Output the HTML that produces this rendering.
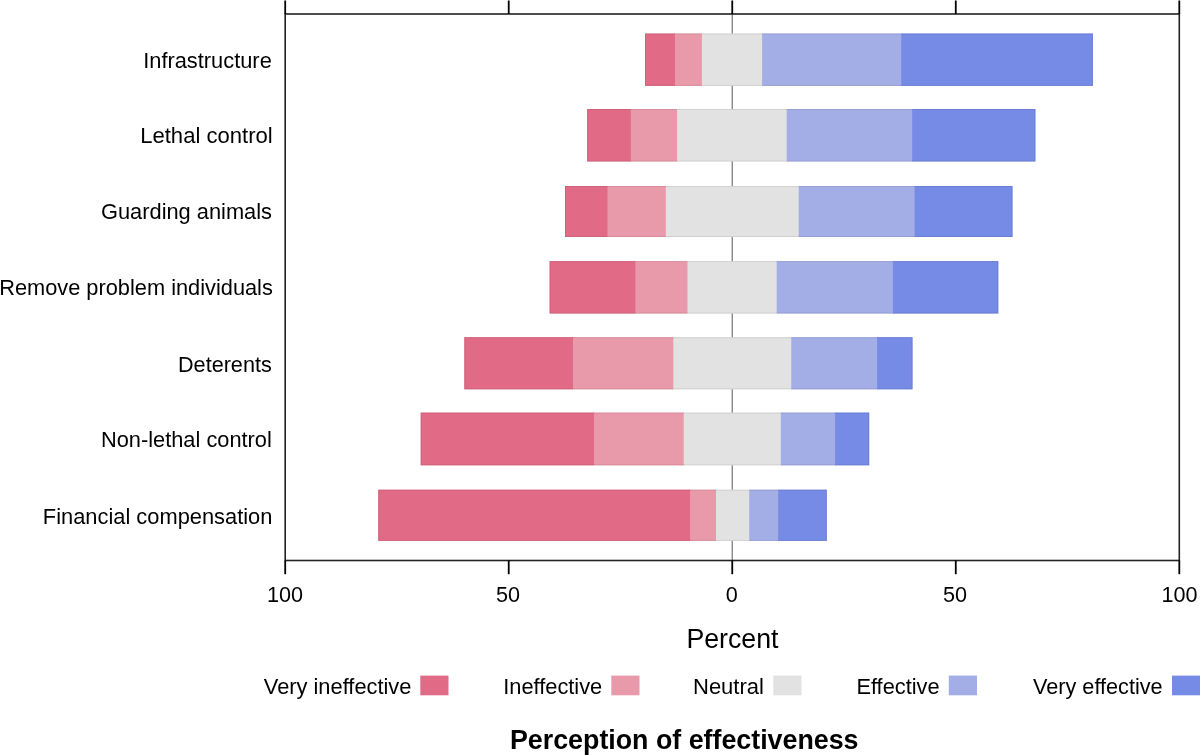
<!DOCTYPE html>
<html><head><meta charset="utf-8"><style>
html,body{margin:0;padding:0;background:#fff;width:1200px;height:755px;overflow:hidden}
svg{display:block;will-change:transform}
text{font-family:"Liberation Sans",sans-serif;fill:#000}
</style></head><body>
<svg width="1200" height="755" viewBox="0 0 1200 755">
<line x1="732.25" y1="14" x2="732.25" y2="560.5" stroke="#7f7f7f" stroke-width="1.3"/>
<rect x="645.00" y="33.53" width="30.70" height="52.37" fill="#E16A86"/>
<rect x="675.00" y="33.53" width="27.60" height="52.37" fill="#E89AAA"/>
<rect x="701.90" y="33.53" width="60.90" height="52.37" fill="#E2E2E2"/>
<rect x="762.10" y="33.53" width="139.85" height="52.37" fill="#A3ADE6"/>
<rect x="901.25" y="33.53" width="191.65" height="52.37" fill="#768BE6"/>
<rect x="587.10" y="109.00" width="44.40" height="52.47" fill="#E16A86"/>
<rect x="630.80" y="109.00" width="47.00" height="52.47" fill="#E89AAA"/>
<rect x="677.10" y="109.00" width="110.30" height="52.47" fill="#E2E2E2"/>
<rect x="786.70" y="109.00" width="126.10" height="52.47" fill="#A3ADE6"/>
<rect x="912.10" y="109.00" width="123.30" height="52.47" fill="#768BE6"/>
<rect x="565.00" y="186.00" width="43.20" height="51.00" fill="#E16A86"/>
<rect x="607.50" y="186.00" width="59.00" height="51.00" fill="#E89AAA"/>
<rect x="665.80" y="186.00" width="133.65" height="51.00" fill="#E2E2E2"/>
<rect x="798.75" y="186.00" width="116.55" height="51.00" fill="#A3ADE6"/>
<rect x="914.60" y="186.00" width="97.90" height="51.00" fill="#768BE6"/>
<rect x="549.60" y="261.10" width="86.50" height="52.40" fill="#E16A86"/>
<rect x="635.40" y="261.10" width="52.80" height="52.40" fill="#E89AAA"/>
<rect x="687.50" y="261.10" width="89.90" height="52.40" fill="#E2E2E2"/>
<rect x="776.70" y="261.10" width="116.90" height="52.40" fill="#A3ADE6"/>
<rect x="892.90" y="261.10" width="105.40" height="52.40" fill="#768BE6"/>
<rect x="464.30" y="337.20" width="109.40" height="52.10" fill="#E16A86"/>
<rect x="573.00" y="337.20" width="101.00" height="52.10" fill="#E89AAA"/>
<rect x="673.30" y="337.20" width="118.65" height="52.10" fill="#E2E2E2"/>
<rect x="791.25" y="337.20" width="86.55" height="52.10" fill="#A3ADE6"/>
<rect x="877.10" y="337.20" width="35.40" height="52.10" fill="#768BE6"/>
<rect x="420.70" y="412.60" width="174.00" height="52.70" fill="#E16A86"/>
<rect x="594.00" y="412.60" width="90.40" height="52.70" fill="#E89AAA"/>
<rect x="683.70" y="412.60" width="97.80" height="52.70" fill="#E2E2E2"/>
<rect x="780.80" y="412.60" width="55.00" height="52.70" fill="#A3ADE6"/>
<rect x="835.10" y="412.60" width="34.10" height="52.70" fill="#768BE6"/>
<rect x="378.25" y="489.70" width="312.55" height="51.20" fill="#E16A86"/>
<rect x="690.10" y="489.70" width="26.60" height="51.20" fill="#E89AAA"/>
<rect x="716.00" y="489.70" width="33.95" height="51.20" fill="#E2E2E2"/>
<rect x="749.25" y="489.70" width="29.55" height="51.20" fill="#A3ADE6"/>
<rect x="778.10" y="489.70" width="48.70" height="51.20" fill="#768BE6"/>
<rect x="645.00" y="33.53" width="30.00" height="1" fill="#C15B73" fill-opacity="0.55"/>
<rect x="645.00" y="84.90" width="30.00" height="1" fill="#C15B73" fill-opacity="0.55"/>
<rect x="675.00" y="33.53" width="26.90" height="1" fill="#C78492" fill-opacity="0.55"/>
<rect x="675.00" y="84.90" width="26.90" height="1" fill="#C78492" fill-opacity="0.55"/>
<rect x="701.90" y="33.53" width="60.20" height="1" fill="#C2C2C2" fill-opacity="0.55"/>
<rect x="701.90" y="84.90" width="60.20" height="1" fill="#C2C2C2" fill-opacity="0.55"/>
<rect x="762.10" y="33.53" width="139.15" height="1" fill="#8C94C5" fill-opacity="0.55"/>
<rect x="762.10" y="84.90" width="139.15" height="1" fill="#8C94C5" fill-opacity="0.55"/>
<rect x="901.25" y="33.53" width="191.65" height="1" fill="#6577C5" fill-opacity="0.55"/>
<rect x="901.25" y="84.90" width="191.65" height="1" fill="#6577C5" fill-opacity="0.55"/>
<rect x="645.00" y="34.53" width="1" height="50.37" fill="#C15B73" fill-opacity="0.55"/>
<rect x="1091.90" y="34.53" width="1" height="50.37" fill="#6577C5" fill-opacity="0.55"/>
<rect x="587.10" y="109.00" width="43.70" height="1" fill="#C15B73" fill-opacity="0.55"/>
<rect x="587.10" y="160.47" width="43.70" height="1" fill="#C15B73" fill-opacity="0.55"/>
<rect x="630.80" y="109.00" width="46.30" height="1" fill="#C78492" fill-opacity="0.55"/>
<rect x="630.80" y="160.47" width="46.30" height="1" fill="#C78492" fill-opacity="0.55"/>
<rect x="677.10" y="109.00" width="109.60" height="1" fill="#C2C2C2" fill-opacity="0.55"/>
<rect x="677.10" y="160.47" width="109.60" height="1" fill="#C2C2C2" fill-opacity="0.55"/>
<rect x="786.70" y="109.00" width="125.40" height="1" fill="#8C94C5" fill-opacity="0.55"/>
<rect x="786.70" y="160.47" width="125.40" height="1" fill="#8C94C5" fill-opacity="0.55"/>
<rect x="912.10" y="109.00" width="123.30" height="1" fill="#6577C5" fill-opacity="0.55"/>
<rect x="912.10" y="160.47" width="123.30" height="1" fill="#6577C5" fill-opacity="0.55"/>
<rect x="587.10" y="110.00" width="1" height="50.47" fill="#C15B73" fill-opacity="0.55"/>
<rect x="1034.40" y="110.00" width="1" height="50.47" fill="#6577C5" fill-opacity="0.55"/>
<rect x="565.00" y="186.00" width="42.50" height="1" fill="#C15B73" fill-opacity="0.55"/>
<rect x="565.00" y="236.00" width="42.50" height="1" fill="#C15B73" fill-opacity="0.55"/>
<rect x="607.50" y="186.00" width="58.30" height="1" fill="#C78492" fill-opacity="0.55"/>
<rect x="607.50" y="236.00" width="58.30" height="1" fill="#C78492" fill-opacity="0.55"/>
<rect x="665.80" y="186.00" width="132.95" height="1" fill="#C2C2C2" fill-opacity="0.55"/>
<rect x="665.80" y="236.00" width="132.95" height="1" fill="#C2C2C2" fill-opacity="0.55"/>
<rect x="798.75" y="186.00" width="115.85" height="1" fill="#8C94C5" fill-opacity="0.55"/>
<rect x="798.75" y="236.00" width="115.85" height="1" fill="#8C94C5" fill-opacity="0.55"/>
<rect x="914.60" y="186.00" width="97.90" height="1" fill="#6577C5" fill-opacity="0.55"/>
<rect x="914.60" y="236.00" width="97.90" height="1" fill="#6577C5" fill-opacity="0.55"/>
<rect x="565.00" y="187.00" width="1" height="49.00" fill="#C15B73" fill-opacity="0.55"/>
<rect x="1011.50" y="187.00" width="1" height="49.00" fill="#6577C5" fill-opacity="0.55"/>
<rect x="549.60" y="261.10" width="85.80" height="1" fill="#C15B73" fill-opacity="0.55"/>
<rect x="549.60" y="312.50" width="85.80" height="1" fill="#C15B73" fill-opacity="0.55"/>
<rect x="635.40" y="261.10" width="52.10" height="1" fill="#C78492" fill-opacity="0.55"/>
<rect x="635.40" y="312.50" width="52.10" height="1" fill="#C78492" fill-opacity="0.55"/>
<rect x="687.50" y="261.10" width="89.20" height="1" fill="#C2C2C2" fill-opacity="0.55"/>
<rect x="687.50" y="312.50" width="89.20" height="1" fill="#C2C2C2" fill-opacity="0.55"/>
<rect x="776.70" y="261.10" width="116.20" height="1" fill="#8C94C5" fill-opacity="0.55"/>
<rect x="776.70" y="312.50" width="116.20" height="1" fill="#8C94C5" fill-opacity="0.55"/>
<rect x="892.90" y="261.10" width="105.40" height="1" fill="#6577C5" fill-opacity="0.55"/>
<rect x="892.90" y="312.50" width="105.40" height="1" fill="#6577C5" fill-opacity="0.55"/>
<rect x="549.60" y="262.10" width="1" height="50.40" fill="#C15B73" fill-opacity="0.55"/>
<rect x="997.30" y="262.10" width="1" height="50.40" fill="#6577C5" fill-opacity="0.55"/>
<rect x="464.30" y="337.20" width="108.70" height="1" fill="#C15B73" fill-opacity="0.55"/>
<rect x="464.30" y="388.30" width="108.70" height="1" fill="#C15B73" fill-opacity="0.55"/>
<rect x="573.00" y="337.20" width="100.30" height="1" fill="#C78492" fill-opacity="0.55"/>
<rect x="573.00" y="388.30" width="100.30" height="1" fill="#C78492" fill-opacity="0.55"/>
<rect x="673.30" y="337.20" width="117.95" height="1" fill="#C2C2C2" fill-opacity="0.55"/>
<rect x="673.30" y="388.30" width="117.95" height="1" fill="#C2C2C2" fill-opacity="0.55"/>
<rect x="791.25" y="337.20" width="85.85" height="1" fill="#8C94C5" fill-opacity="0.55"/>
<rect x="791.25" y="388.30" width="85.85" height="1" fill="#8C94C5" fill-opacity="0.55"/>
<rect x="877.10" y="337.20" width="35.40" height="1" fill="#6577C5" fill-opacity="0.55"/>
<rect x="877.10" y="388.30" width="35.40" height="1" fill="#6577C5" fill-opacity="0.55"/>
<rect x="464.30" y="338.20" width="1" height="50.10" fill="#C15B73" fill-opacity="0.55"/>
<rect x="911.50" y="338.20" width="1" height="50.10" fill="#6577C5" fill-opacity="0.55"/>
<rect x="420.70" y="412.60" width="173.30" height="1" fill="#C15B73" fill-opacity="0.55"/>
<rect x="420.70" y="464.30" width="173.30" height="1" fill="#C15B73" fill-opacity="0.55"/>
<rect x="594.00" y="412.60" width="89.70" height="1" fill="#C78492" fill-opacity="0.55"/>
<rect x="594.00" y="464.30" width="89.70" height="1" fill="#C78492" fill-opacity="0.55"/>
<rect x="683.70" y="412.60" width="97.10" height="1" fill="#C2C2C2" fill-opacity="0.55"/>
<rect x="683.70" y="464.30" width="97.10" height="1" fill="#C2C2C2" fill-opacity="0.55"/>
<rect x="780.80" y="412.60" width="54.30" height="1" fill="#8C94C5" fill-opacity="0.55"/>
<rect x="780.80" y="464.30" width="54.30" height="1" fill="#8C94C5" fill-opacity="0.55"/>
<rect x="835.10" y="412.60" width="34.10" height="1" fill="#6577C5" fill-opacity="0.55"/>
<rect x="835.10" y="464.30" width="34.10" height="1" fill="#6577C5" fill-opacity="0.55"/>
<rect x="420.70" y="413.60" width="1" height="50.70" fill="#C15B73" fill-opacity="0.55"/>
<rect x="868.20" y="413.60" width="1" height="50.70" fill="#6577C5" fill-opacity="0.55"/>
<rect x="378.25" y="489.70" width="311.85" height="1" fill="#C15B73" fill-opacity="0.55"/>
<rect x="378.25" y="539.90" width="311.85" height="1" fill="#C15B73" fill-opacity="0.55"/>
<rect x="690.10" y="489.70" width="25.90" height="1" fill="#C78492" fill-opacity="0.55"/>
<rect x="690.10" y="539.90" width="25.90" height="1" fill="#C78492" fill-opacity="0.55"/>
<rect x="716.00" y="489.70" width="33.25" height="1" fill="#C2C2C2" fill-opacity="0.55"/>
<rect x="716.00" y="539.90" width="33.25" height="1" fill="#C2C2C2" fill-opacity="0.55"/>
<rect x="749.25" y="489.70" width="28.85" height="1" fill="#8C94C5" fill-opacity="0.55"/>
<rect x="749.25" y="539.90" width="28.85" height="1" fill="#8C94C5" fill-opacity="0.55"/>
<rect x="778.10" y="489.70" width="48.70" height="1" fill="#6577C5" fill-opacity="0.55"/>
<rect x="778.10" y="539.90" width="48.70" height="1" fill="#6577C5" fill-opacity="0.55"/>
<rect x="378.25" y="490.70" width="1" height="49.20" fill="#C15B73" fill-opacity="0.55"/>
<rect x="825.80" y="490.70" width="1" height="49.20" fill="#6577C5" fill-opacity="0.55"/>
<rect x="285.2" y="14" width="894.10" height="546.5" fill="none" stroke="#222" stroke-width="1.6"/>
<line x1="285.20" y1="0.5" x2="285.20" y2="14" stroke="#000" stroke-width="1.8"/>
<line x1="285.20" y1="560.5" x2="285.20" y2="574.2" stroke="#000" stroke-width="1.8"/>
<line x1="508.72" y1="0.5" x2="508.72" y2="14" stroke="#000" stroke-width="1.8"/>
<line x1="508.72" y1="560.5" x2="508.72" y2="574.2" stroke="#000" stroke-width="1.8"/>
<line x1="732.25" y1="0.5" x2="732.25" y2="14" stroke="#000" stroke-width="1.8"/>
<line x1="732.25" y1="560.5" x2="732.25" y2="574.2" stroke="#000" stroke-width="1.8"/>
<line x1="955.77" y1="0.5" x2="955.77" y2="14" stroke="#000" stroke-width="1.8"/>
<line x1="955.77" y1="560.5" x2="955.77" y2="574.2" stroke="#000" stroke-width="1.8"/>
<line x1="1179.30" y1="0.5" x2="1179.30" y2="14" stroke="#000" stroke-width="1.8"/>
<line x1="1179.30" y1="560.5" x2="1179.30" y2="574.2" stroke="#000" stroke-width="1.8"/>
<rect x="420.3" y="675.6" width="28.2" height="19.7" fill="#E16A86"/>
<rect x="611.3" y="675.6" width="28.2" height="19.7" fill="#E89AAA"/>
<rect x="773.3" y="675.6" width="28.2" height="19.7" fill="#E2E2E2"/>
<rect x="948.8" y="675.6" width="28.2" height="19.7" fill="#A3ADE6"/>
<rect x="1172" y="675.6" width="28.2" height="19.7" fill="#768BE6"/>
<text id="y0" x="143.20" y="67.6" font-size="22" textLength="128.59" lengthAdjust="spacingAndGlyphs">Infrastructure</text>
<text id="y1" x="140.20" y="143.3" font-size="22" textLength="132.51" lengthAdjust="spacingAndGlyphs">Lethal control</text>
<text id="y2" x="101.00" y="219.2" font-size="22" textLength="171.02" lengthAdjust="spacingAndGlyphs">Guarding animals</text>
<text id="y3" x="-0.80" y="295.3" font-size="22" textLength="273.65" lengthAdjust="spacingAndGlyphs">Remove problem individuals</text>
<text id="y4" x="178.00" y="371.6" font-size="22" textLength="93.75" lengthAdjust="spacingAndGlyphs">Deterents</text>
<text id="y5" x="101.00" y="447.0" font-size="22" textLength="170.81" lengthAdjust="spacingAndGlyphs">Non-lethal control</text>
<text id="y6" x="42.80" y="523.6" font-size="22" textLength="229.63" lengthAdjust="spacingAndGlyphs">Financial compensation</text>
<text id="t0" x="267.00" y="601.8" font-size="21.6">100</text>
<text id="t1" x="496.00" y="601.8" font-size="21.6">50</text>
<text id="t2" x="725.80" y="601.8" font-size="21.6">0</text>
<text id="t3" x="943.00" y="601.8" font-size="21.6">50</text>
<text id="t4" x="1161.60" y="601.8" font-size="21.6">100</text>
<text id="xl" x="686.40" y="648" font-size="27" textLength="92.15" lengthAdjust="spacingAndGlyphs">Percent</text>
<text id="l0" x="263.80" y="693.6" font-size="22" textLength="147.59" lengthAdjust="spacingAndGlyphs">Very ineffective</text>
<text id="l1" x="503.20" y="693.6" font-size="22" textLength="99.07" lengthAdjust="spacingAndGlyphs">Ineffective</text>
<text id="l2" x="693.00" y="693.6" font-size="22" textLength="70.92" lengthAdjust="spacingAndGlyphs">Neutral</text>
<text id="l3" x="856.40" y="693.6" font-size="22" textLength="83.27" lengthAdjust="spacingAndGlyphs">Effective</text>
<text id="l4" x="1033.00" y="693.6" font-size="22" textLength="129.67" lengthAdjust="spacingAndGlyphs">Very effective</text>
<text id="title" x="510.00" y="749.2" font-size="26.8" font-weight="bold">Perception of effectiveness</text>
</svg></body></html>
